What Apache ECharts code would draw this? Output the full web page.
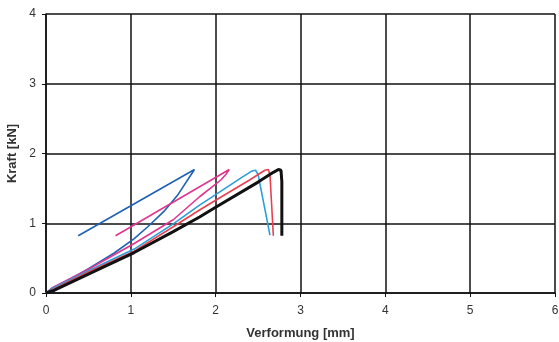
<!DOCTYPE html>
<html><head><meta charset="utf-8">
<script src="https://cdn.jsdelivr.net/npm/echarts@6/dist/echarts.min.js"></script>
<style>html,body{margin:0;padding:0;background:#fff}#c{width:559px;height:342px}</style>
</head><body><div id="c"></div>
<script>
var xTicks = [0,1,2,3,4,5,6];
var yTicks = [0,1,2,3,4];
var darkBlue = [[0,0],[0.06,0.06],[0.3,0.21],[0.5,0.35],[0.8,0.57],[1.04,0.78],[1.2,0.95],[1.39,1.17],[1.55,1.4],[1.75,1.77],[0.38,0.82]];
var magenta = [[0,0],[0.08,0.08],[0.5,0.34],[1.04,0.71],[1.5,1.05],[1.81,1.38],[2.0,1.56],[2.06,1.62],[2.04,1.63],[2.12,1.7],[2.16,1.77],[0.82,0.82]];
var cyan = [[0,0],[0.08,0.07],[0.5,0.32],[1.04,0.63],[1.5,0.99],[1.81,1.26],[2.0,1.41],[2.3,1.65],[2.43,1.75],[2.47,1.76],[2.5,1.7],[2.64,0.83]];
var red = [[0,0],[0.1,0.06],[0.5,0.3],[1.04,0.6],[1.5,0.95],[1.81,1.19],[2.0,1.33],[2.4,1.62],[2.58,1.76],[2.62,1.77],[2.64,1.7],[2.68,0.82]];
var black = [[0,0],[0.1,0.04],[0.5,0.27],[1.04,0.58],[1.5,0.88],[1.81,1.09],[2.0,1.23],[2.5,1.59],[2.68,1.73],[2.74,1.77],[2.77,1.76],[2.78,1.6],[2.78,0.82]];
var seriesList = [
  {data: darkBlue, color:'#1f62b4', w:1.6},
  {data: magenta, color:'#e0368f', w:1.6},
  {data: cyan, color:'#2b9ed8', w:1.6},
  {data: red, color:'#e8404e', w:1.6},
  {data: black, color:'#111111', w:3}
];
var chart = echarts.init(document.getElementById('c'));
var ff = 'Liberation Sans, Arial, sans-serif';
var lbl = {color:'#333', fontSize:12, fontFamily:ff};
chart.setOption({
  animation:false,
  backgroundColor:'#fff',
  grid:{left:46,right:4,top:14,bottom:49,containLabel:false,outerBoundsMode:'none'},
  xAxis:{type:'value',min:0,max:6,interval:1,
    name:'Verformung [mm]',nameLocation:'middle',nameGap:34,
    nameTextStyle:{fontWeight:'bold',fontSize:13,color:'#333',fontFamily:ff},
    axisLine:{lineStyle:{color:'#111',width:1.5}},
    axisTick:{show:true,length:4,lineStyle:{color:'#111',width:1}},
    axisLabel:Object.assign({margin:12,formatter:function(v){return xTicks.indexOf(v)>=0?String(v):'';}},lbl),
    splitLine:{show:true,lineStyle:{color:'#111',width:1.5}}},
  yAxis:{type:'value',min:0,max:4,interval:1,
    name:'Kraft [kN]',nameLocation:'middle',nameGap:25,nameRotate:90,
    nameTextStyle:{fontWeight:'bold',fontSize:13,color:'#333',fontFamily:ff},
    axisLine:{show:true,lineStyle:{color:'#111',width:1.5}},
    axisTick:{show:true,length:4,lineStyle:{color:'#111',width:1}},
    axisLabel:Object.assign({margin:10,formatter:function(v){return yTicks.indexOf(v)>=0?String(v):'';}},lbl),
    splitLine:{show:true,lineStyle:{color:'#111',width:1.5}}},
  series: seriesList.map(function(s){return {type:'line',data:s.data,showSymbol:false,smooth:false,
    lineStyle:{color:s.color,width:s.w},itemStyle:{color:s.color}};})
});
</script></body></html>
